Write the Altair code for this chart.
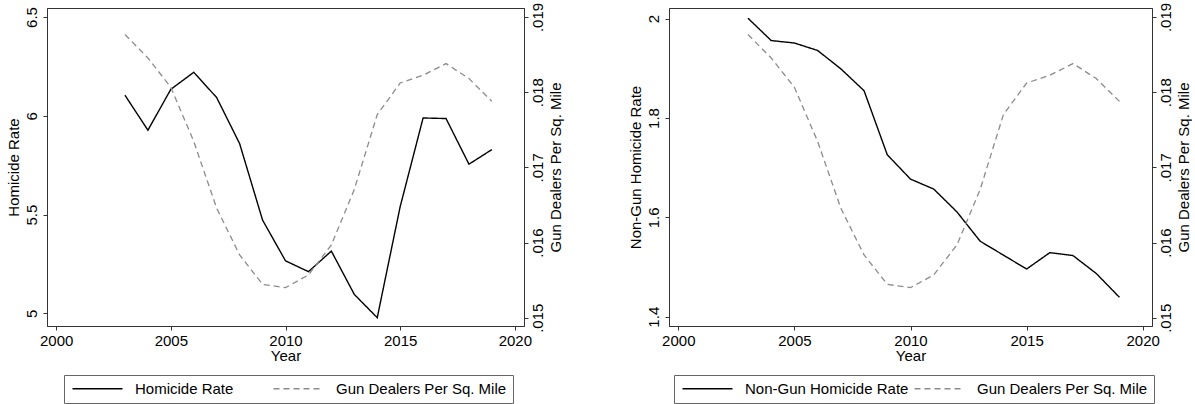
import altair as alt
import pandas as pd

years = list(range(2003, 2020))
homicide_rate = [6.104, 5.927, 6.134, 6.220, 6.092, 5.859, 5.472, 5.266, 5.211,
                 5.315, 5.096, 4.978, 5.540, 5.989, 5.986, 5.755, 5.829]
nongun_homicide_rate = [2.001, 1.956, 1.951, 1.936, 1.899, 1.855, 1.726, 1.677, 1.657,
                        1.611, 1.552, 1.524, 1.496, 1.529, 1.523, 1.487, 1.439]
gun_dealers = [0.018767, 0.018455, 0.018065, 0.017345, 0.016456, 0.015835, 0.015444,
               0.015400, 0.015569, 0.015969, 0.016706, 0.017701, 0.018122, 0.018225,
               0.018380, 0.018181, 0.017878]

x_ticks = [2000, 2005, 2010, 2015, 2020]
dealer_ticks = [0.015, 0.016, 0.017, 0.018, 0.019]
DEALER_NAME = "Gun Dealers Per Sq. Mile"
FONT = "Liberation Sans"


def panel(rate_name, rate_vals, y_dom, y_ticks, legend_x, col_pad, width):
    df = pd.DataFrame({"year": years, "rate": rate_vals, "dealers": gun_dealers})
    df["s1"] = rate_name
    df["s2"] = DEALER_NAME
    domain = [rate_name, DEALER_NAME]
    color_scale = alt.Scale(domain=domain, range=["#000000", "#8c8c8c"])
    dash_scale = alt.Scale(domain=domain, range=[[1, 0], [6, 4]])
    legend = alt.Legend(
        orient="none", legendX=legend_x, legendY=367, direction="horizontal",
        title=None, symbolType="M-1,0H9", symbolSize=100, symbolStrokeWidth=1.3,
        labelFontSize=15, labelFont=FONT, labelColor="black", labelOffset=50,
        labelLimit=400, columnPadding=col_pad, padding=6, strokeColor="#666666",
    )
    x = alt.X(
        "year:Q",
        scale=alt.Scale(domain=[1999.6, 2020.4], nice=False, zero=False),
        axis=alt.Axis(values=x_ticks, format="d", title="Year", labelPadding=3,
                      titlePadding=0),
    )
    base = alt.Chart(df)
    l1 = base.mark_line(strokeWidth=1.4).encode(
        x=x,
        y=alt.Y("rate:Q", scale=alt.Scale(domain=y_dom, nice=False, zero=False),
                axis=alt.Axis(orient="left", values=y_ticks, format="~g",
                              title=rate_name, labelAngle=270, labelAlign="center",
                              labelBaseline="bottom", labelPadding=4, titlePadding=3)),
        color=alt.Color("s1:N", scale=color_scale, legend=legend),
        strokeDash=alt.StrokeDash("s1:N", scale=dash_scale, legend=legend),
    )
    l2 = base.mark_line(strokeWidth=1.3).encode(
        x=x,
        y=alt.Y("dealers:Q",
                scale=alt.Scale(domain=[0.01489, 0.0191196], nice=False, zero=False),
                axis=alt.Axis(orient="right", values=dealer_ticks,
                              labelExpr="replace(format(datum.value, '.3f'), '0.', '.')",
                              title=DEALER_NAME, labelAngle=270, labelAlign="center",
                              labelBaseline="top", labelPadding=2, titleAngle=270,
                              titleBaseline="top", titlePadding=3)),
        color=alt.Color("s2:N", scale=color_scale, legend=legend),
        strokeDash=alt.StrokeDash("s2:N", scale=dash_scale, legend=legend),
    )
    return alt.layer(l1, l2).resolve_scale(y="independent").properties(
        width=width, height=318)


left = panel("Homicide Rate", homicide_rate, [4.936, 6.5455], [5, 5.5, 6, 6.5], 17, 36, 477)
right = panel("Non-Gun Homicide Rate", nongun_homicide_rate, [1.3813, 2.0215],
              [1.4, 1.6, 1.8, 2], 5, 2, 483)

chart = (
    alt.hconcat(left, right, spacing=145, bounds="flush")
    .resolve_scale(color="independent", strokeDash="independent")
    .properties(padding={"left": 5, "top": 1, "right": 0, "bottom": 0},
                background="white")
    .configure_view(stroke="#333333", strokeWidth=1)
    .configure_axis(
        labelFont=FONT, labelFontSize=15, labelColor="black",
        titleFont=FONT, titleFontSize=15, titleFontWeight="normal", titleColor="black",
        tickSize=4, tickColor="#333333", domainColor="#333333", grid=False,
    )
)

chart.save("out.html", embed_options={"renderer": "svg", "actions": False})
